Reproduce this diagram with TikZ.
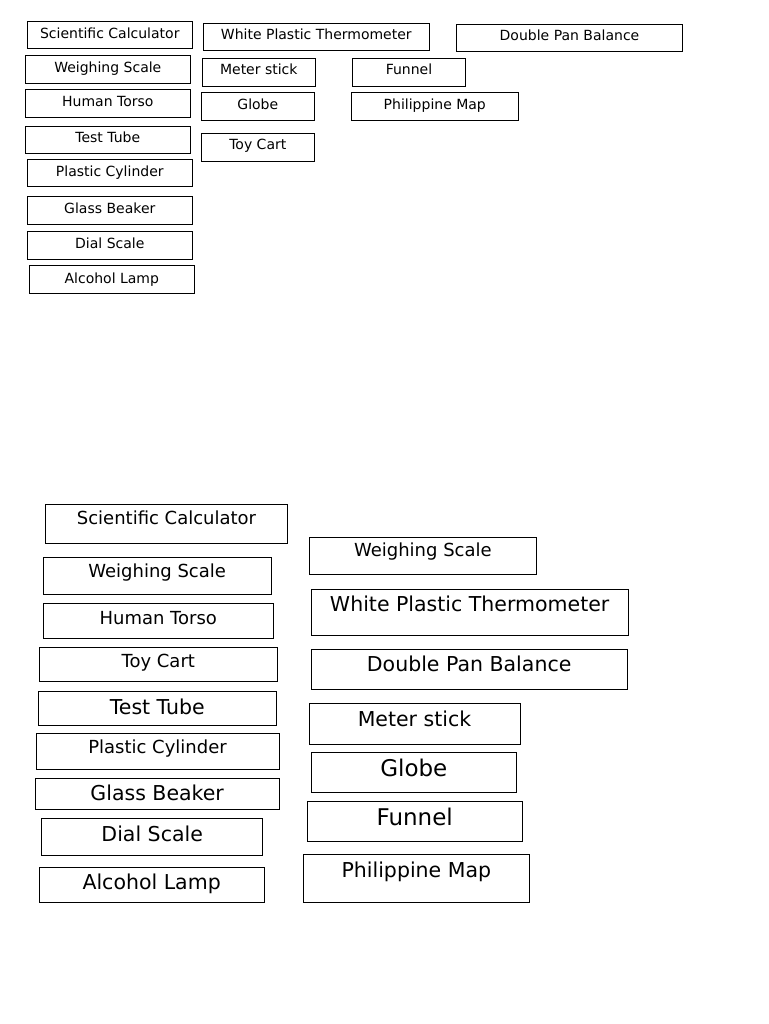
\documentclass[tikz,border=0pt]{standalone}
\usepackage{fontspec}
\setmainfont{DejaVu Sans}
\newcommand\bx[8]{%
  \node[box, minimum width={#4-#2}, minimum height={#5-#3}] (#1) at ({(#2+#4)/2},{(#3+#5)/2}) {};
  \node[lbl, font=\fontsize{#7}{#7}\selectfont] (#1t) at ({(#2+#4)/2},#6) {#8};
}
\begin{document}
\begin{tikzpicture}[x=1pt,y=-1pt,
  box/.style={draw=black, line width=0.9pt, inner sep=0pt, rectangle},
  lbl/.style={anchor=base, inner sep=0pt, text=black}]
\useasboundingbox[fill=white] (0,0) rectangle (768,1024);
% top group, left column
\bx{a1}{27.3}{21}{192.3}{48.7}{38.3}{14}{Scientific Calculator}
\bx{a2}{25.3}{55.3}{190.3}{83.3}{72.7}{14}{Weighing Scale}
\bx{a3}{25.3}{89.7}{190.3}{117.3}{107}{14}{Human Torso}
\bx{a4}{25.3}{126}{190.3}{153.3}{142.3}{14}{Test Tube}
\bx{a5}{27.3}{159.3}{192.3}{186.7}{176.7}{14}{Plastic Cylinder}
\bx{a6}{27.3}{196.7}{192.3}{224}{213.3}{14}{Glass Beaker}
\bx{a7}{27.3}{231.7}{192.3}{259.3}{248.7}{14}{Dial Scale}
\bx{a8}{29.3}{265.7}{194.3}{293.3}{283.3}{14}{Alcohol Lamp}
% top group, other columns
\bx{b1}{203.3}{23.3}{429.3}{50.7}{40}{14}{White Plastic Thermometer}
\bx{b2}{202.3}{58.3}{315.3}{86}{75}{14}{Meter stick}
\bx{b3}{201.3}{92.3}{314.3}{120.3}{109.3}{14}{Globe}
\bx{b4}{201.3}{133.3}{314.3}{161.7}{149.3}{14}{Toy Cart}
\bx{c1}{352.3}{58.3}{465.7}{86}{75}{14}{Funnel}
\bx{c2}{351.3}{92.3}{518.3}{120.3}{109.3}{14}{Philippine Map}
\bx{c3}{456.3}{24.3}{682.7}{51.7}{41}{14}{Double Pan Balance}
% bottom group, left column
\bx{d1}{45.7}{504.3}{287.3}{543.7}{524.3}{18}{Scientific Calculator}
\bx{d2}{43.3}{557}{271}{594.3}{577}{18}{Weighing Scale}
\bx{d3}{43.3}{603.3}{273.3}{638.3}{624.3}{18}{Human Torso}
\bx{d4}{39.3}{647.3}{277.3}{681.7}{667.7}{18}{Toy Cart}
\bx{d5}{38.3}{691}{276.3}{725.3}{714}{20.5}{Test Tube}
\bx{d6}{36}{733.3}{279}{769}{753.3}{18}{Plastic Cylinder}
\bx{d7}{35.3}{778.7}{279}{809}{800.7}{20.5}{Glass Beaker}
\bx{d8}{41.7}{818.3}{262.7}{855}{841.7}{20.5}{Dial Scale}
\bx{d9}{39.3}{867}{264}{902.3}{889.7}{20.5}{Alcohol Lamp}
% bottom group, right column
\bx{e1}{309}{537}{536.7}{574.3}{556.7}{18}{Weighing Scale}
\bx{e2}{311}{589.3}{628.3}{635}{611}{20.5}{White Plastic Thermometer}
\bx{e3}{311}{649.3}{627.3}{689}{671.7}{20.5}{Double Pan Balance}
\bx{e4}{309}{703.3}{520}{744}{726}{20.5}{Meter stick}
\bx{e5}{311}{752}{516.7}{792}{776.7}{23}{Globe}
\bx{e6}{307}{801}{522.3}{841.3}{825.7}{23}{Funnel}
\bx{e7}{303.3}{854.7}{529.3}{902.3}{877.7}{20.5}{Philippine Map}
\end{tikzpicture}
\end{document}
